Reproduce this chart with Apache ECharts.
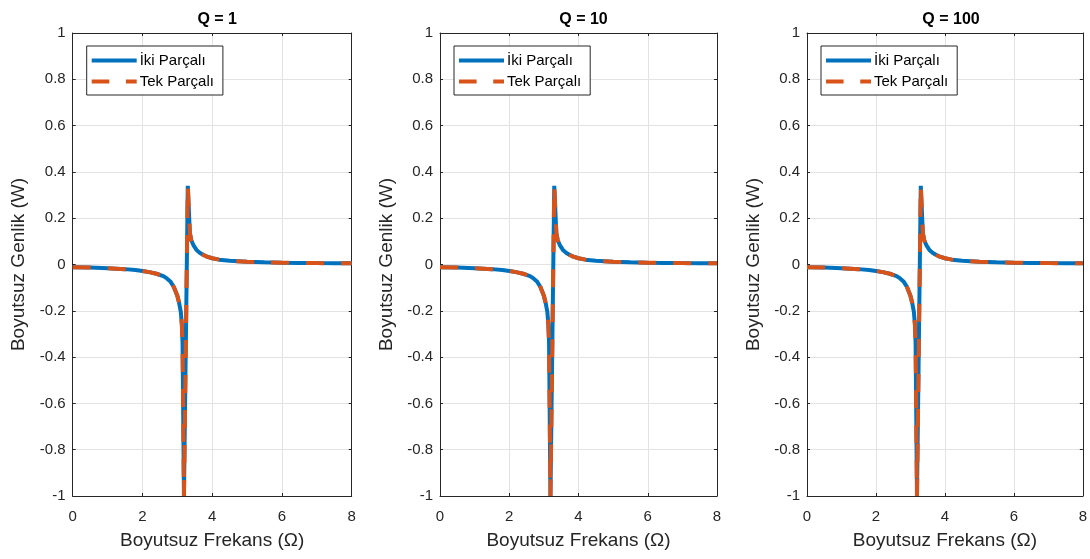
<!DOCTYPE html>
<html>
<head>
<meta charset="utf-8">
<script src="https://cdn.jsdelivr.net/npm/echarts@6/dist/echarts.min.js"></script>
<style>
html,body{margin:0;padding:0;background:#fff;}
#c{width:1090px;height:559px;}
</style>
</head>
<body>
<div id="c"></div>
<script>
// Data (identical curves in all three panels)
const titles = ['Q = 1', 'Q = 10', 'Q = 100'];
const seriesNames = ['İki Parçalı', 'Tek Parçalı'];
const xTicks = [0, 2, 4, 6, 8];
const yTicks = [-1, -0.8, -0.6, -0.4, -0.2, 0, 0.2, 0.4, 0.6, 0.8, 1];
const omega = [0, 0.5, 1.0, 1.5, 1.8, 2.0, 2.2, 2.4, 2.6, 2.7, 2.8, 2.9, 3.0, 3.05, 3.1, 3.13, 3.15, 3.19, 3.3, 3.36, 3.4, 3.46, 3.55, 3.65, 3.75, 3.85, 4.0, 4.2, 4.5, 5.0, 5.5, 6.0, 6.5, 7.0, 7.5, 8.0];
const ikiParcali = [-0.012, -0.013, -0.016, -0.02, -0.024, -0.028, -0.033, -0.04, -0.05, -0.06, -0.073, -0.097, -0.135, -0.165, -0.205, -0.26, -0.34, -1.0, 0.34, 0.135, 0.105, 0.084, 0.063, 0.05, 0.041, 0.034, 0.027, 0.021, 0.016, 0.012, 0.0095, 0.008, 0.007, 0.006, 0.0055, 0.005];
const tekParcali = [-0.012, -0.013, -0.016, -0.02, -0.024, -0.028, -0.033, -0.04, -0.05, -0.06, -0.073, -0.097, -0.135, -0.165, -0.205, -0.26, -0.34, -1.0, 0.34, 0.135, 0.105, 0.084, 0.063, 0.05, 0.041, 0.034, 0.027, 0.021, 0.016, 0.012, 0.0095, 0.008, 0.007, 0.006, 0.0055, 0.005];

const gLefts = [72.7, 440, 807];
const gWidths = [279, 277, 278];
const gTop = 33, gHeight = 463;
const font = '"Liberation Sans", Arial, Helvetica, sans-serif';
const textColor = '#262626';
const blue = '#0072BD', orange = '#D95319';

const grids = [], xAxes = [], yAxes = [], series = [], legends = [], titleArr = [];
const pairs = (ys) => omega.map((x, i) => [x, ys[i]]);

for (let g = 0; g < 3; g++) {
  grids.push({left: gLefts[g], top: gTop, width: gWidths[g], height: gHeight, show: false, containLabel: false});
  const tickStyle = {show: true, inside: true, length: 3, lineStyle: {color: textColor}};
  xAxes.push({
    type: 'value', gridIndex: g, min: 0, max: 8, interval: 2, position: 'bottom',
    name: 'Boyutsuz Frekans (Ω)', nameLocation: 'middle', nameGap: 35,
    nameTextStyle: {fontSize: 19, color: textColor, fontFamily: font},
    axisLine: {show: true, onZero: false, lineStyle: {color: textColor, width: 1}},
    axisTick: tickStyle,
    axisLabel: {fontSize: 15, color: textColor, fontFamily: font, margin: 13},
    splitLine: {show: true, lineStyle: {color: '#e3e3e3', width: 1}}
  });
  xAxes.push({
    type: 'value', gridIndex: g, min: 0, max: 8, interval: 2, position: 'top',
    axisLine: {show: true, onZero: false, lineStyle: {color: textColor, width: 1}},
    axisTick: tickStyle, axisLabel: {show: false}, splitLine: {show: false}
  });
  yAxes.push({
    type: 'value', gridIndex: g, min: -1, max: 1, interval: 0.2, position: 'left',
    name: 'Boyutsuz Genlik (W)', nameLocation: 'middle', nameGap: 44, nameRotate: 90,
    nameTextStyle: {fontSize: 19, color: textColor, fontFamily: font},
    axisLine: {show: true, onZero: false, lineStyle: {color: textColor, width: 1}},
    axisTick: tickStyle,
    axisLabel: {fontSize: 15, color: textColor, fontFamily: font, margin: 7,
      formatter: (v) => { const r = Math.round(v * 10) / 10; return r === 0 ? '0' : String(r); }},
    splitLine: {show: true, lineStyle: {color: '#e3e3e3', width: 1}}
  });
  yAxes.push({
    type: 'value', gridIndex: g, min: -1, max: 1, interval: 0.2, position: 'right',
    axisLine: {show: true, onZero: false, lineStyle: {color: textColor, width: 1}},
    axisTick: tickStyle, axisLabel: {show: false}, splitLine: {show: false}
  });
  series.push({
    name: seriesNames[0], type: 'line', xAxisIndex: g * 2, yAxisIndex: g * 2,
    data: pairs(ikiParcali), showSymbol: false, symbol: 'none', clip: true, smooth: false,
    lineStyle: {color: blue, width: 4}, itemStyle: {color: blue}, z: 2
  });
  series.push({
    name: seriesNames[1], type: 'line', xAxisIndex: g * 2, yAxisIndex: g * 2,
    data: pairs(tekParcali), showSymbol: false, symbol: 'none', clip: true, smooth: false,
    lineStyle: {color: orange, width: 4, type: [18, 17]}, itemStyle: {color: orange}, z: 3
  });
  legends.push({
    data: [
      {name: seriesNames[0], icon: 'rect', itemStyle: {color: blue}},
      {name: seriesNames[1], icon: 'path://M0,0 H18 V4 H0 Z M35,0 H46 V4 H35 Z', itemStyle: {color: orange}}
    ],
    left: gLefts[g] + 14, top: 46, orient: 'vertical',
    itemWidth: 45, itemHeight: 4, itemGap: 4, padding: [6, 9, 5, 5],
    backgroundColor: '#ffffff', borderColor: textColor, borderWidth: 1, borderRadius: 0,
    textStyle: {fontSize: 15, color: '#000', fontFamily: font, lineHeight: 17, padding: [0, 0, 0, -2]},
    selectedMode: false
  });
  titleArr.push({
    text: titles[g], left: gLefts[g] + gWidths[g] / 2, top: 7, textAlign: 'center',
    textStyle: {fontSize: 16, fontWeight: 'bold', color: '#000', fontFamily: font}
  });
}

const chart = echarts.init(document.getElementById('c'), null, {renderer: 'canvas'});
chart.setOption({
  animation: false,
  backgroundColor: '#ffffff',
  title: titleArr,
  legend: legends,
  grid: grids,
  xAxis: xAxes,
  yAxis: yAxes,
  series: series
});
</script>
</body>
</html>
